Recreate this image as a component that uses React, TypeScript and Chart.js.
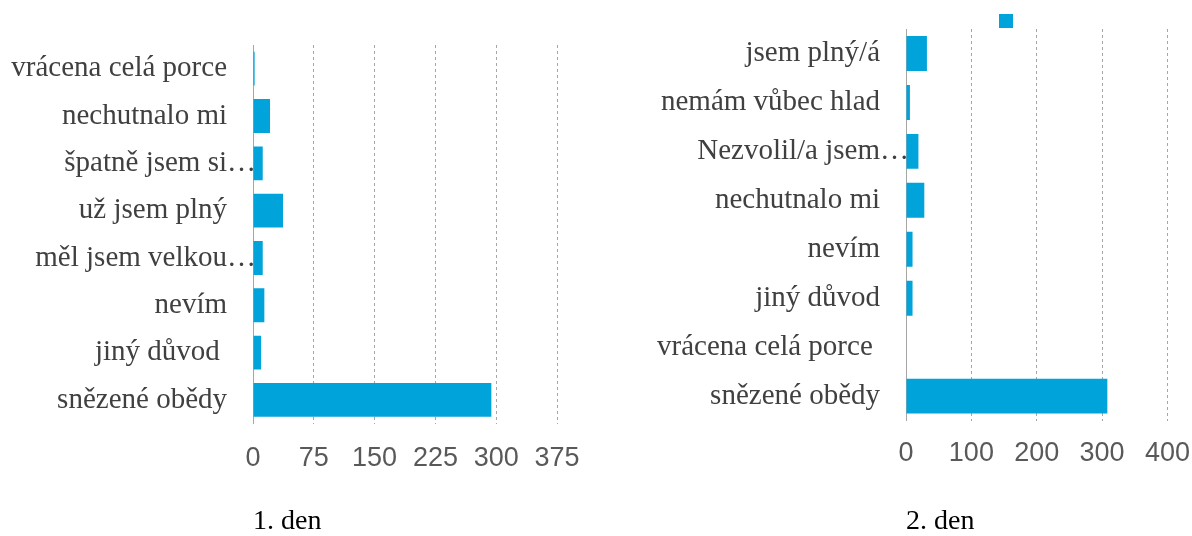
import React, { useEffect, useRef } from 'react';
import { Chart, registerables } from 'chart.js';

Chart.register(...registerables);

// ---- data ----
const day1Categories = [
  'vrácena celá porce',
  'nechutnalo mi',
  'špatně jsem si…',
  'už jsem plný',
  'měl jsem velkou…',
  'nevím',
  'jiný důvod ',
  'snězené obědy',
];
const day1Values = [2, 21, 12, 37, 12, 14, 10, 294];
const day1Ticks = [0, 75, 150, 225, 300, 375];
const day1Title = '1. den';

const day2Categories = [
  'jsem plný/á',
  'nemám vůbec hlad',
  'Nezvolil/a jsem…',
  'nechutnalo mi',
  'nevím',
  'jiný důvod',
  'vrácena celá porce ',
  'snězené obědy',
];
const day2Values = [32, 6, 19, 28, 10, 10, 0, 308];
const day2Ticks = [0, 100, 200, 300, 400];
const day2Title = '2. den';

// ---- styles ----
const BAR_COLOR = '#00A3DA';
const SERIF = "'Liberation Serif', 'Times New Roman', serif";
const SANS = "'Liberation Sans', Arial, sans-serif";

const legendSwatch = {
  id: 'legendSwatch',
  afterDraw(chart: any, _args: any, opts: any) {
    if (!opts || !opts.show) return;
    const { ctx, chartArea } = chart;
    ctx.save();
    ctx.fillStyle = chart.data.datasets[0].backgroundColor;
    ctx.fillRect(chartArea.left + opts.dx, chartArea.top + opts.dy, 14, 14);
    ctx.restore();
  },
};

type PanelProps = {
  categories: string[];
  values: number[];
  ticks: number[];
  title: string;
  width: number;
  left: number;
  axisWidth: number;
  padTop: number;
  padRight: number;
  padBottom: number;
  xTickPad: number;
  titlePadTop: number;
  swatch: boolean;
};

function BarPanel(p: PanelProps) {
  const ref = useRef<HTMLCanvasElement | null>(null);
  useEffect(() => {
    if (!ref.current) return;
    const cats = p.categories;
    const chart = new Chart(ref.current, {
      type: 'bar',
      data: {
        labels: cats,
        datasets: [
          {
            label: '',
            data: p.values,
            backgroundColor: BAR_COLOR,
            borderWidth: 0,
            barPercentage: 0.715,
            categoryPercentage: 1,
          },
        ],
      },
      plugins: [legendSwatch],
      options: {
        indexAxis: 'y',
        responsive: false,
        animation: false,
        layout: { padding: { left: 0, top: p.padTop, right: p.padRight, bottom: p.padBottom } },
        plugins: {
          legend: { display: false },
          tooltip: { enabled: false },
          legendSwatch: { show: p.swatch, dx: 93, dy: -15 },
          title: {
            display: true,
            text: p.title,
            position: 'bottom',
            align: 'start',
            fullSize: false,
            color: '#000000',
            font: { family: SERIF, size: 28, weight: 'normal', lineHeight: 1 },
            padding: { top: p.titlePadTop, bottom: 0 },
          },
        } as any,
        scales: {
          x: {
            min: p.ticks[0],
            max: p.ticks[p.ticks.length - 1],
            ticks: {
              stepSize: p.ticks[1] - p.ticks[0],
              color: '#595959',
              font: { family: SANS, size: 27 },
              padding: p.xTickPad,
              maxRotation: 0,
              autoSkip: false,
            },
            grid: { color: '#A6A6A6', lineWidth: 1, drawTicks: false },
            border: { display: false, dash: [3, 3] },
          },
          y: {
            afterFit: (s: any) => {
              s.width = p.axisWidth;
            },
            ticks: {
              color: '#404040',
              font: { family: SERIF, size: 29 },
              padding: -3,
              autoSkip: false,
              callback: (_v: any, i: number) => {
                const l = cats[i];
                return l.endsWith('…') ? l : l + '    ';
              },
            },
            grid: { display: false, drawTicks: false },
            border: { display: true, color: '#A6A6A6', width: 1 },
          },
        },
      } as any,
    });
    return () => chart.destroy();
  }, []);
  return (
    <canvas
      ref={ref}
      width={p.width}
      height={536}
      style={{ position: 'absolute', left: p.left, top: 0, width: p.width, height: 536, display: 'block' }}
    />
  );
}

export default function App() {
  return (
    <div
      style={{
        position: 'absolute',
        left: 0,
        top: 0,
        width: 1192,
        height: 536,
        overflow: 'hidden',
        background: '#ffffff',
      }}
    >
      <BarPanel
        categories={day1Categories}
        values={day1Values}
        ticks={day1Ticks}
        title={day1Title}
        width={600}
        left={0}
        axisWidth={253}
        padTop={45}
        padRight={43}
        padBottom={0}
        xTickPad={19}
        titlePadTop={14}
        swatch={false}
      />
      <BarPanel
        categories={day2Categories}
        values={day2Values}
        ticks={day2Ticks}
        title={day2Title}
        width={607}
        left={600}
        axisWidth={306}
        padTop={29}
        padRight={25}
        padBottom={0}
        xTickPad={17}
        titlePadTop={21}
        swatch={true}
      />
    </div>
  );
}
